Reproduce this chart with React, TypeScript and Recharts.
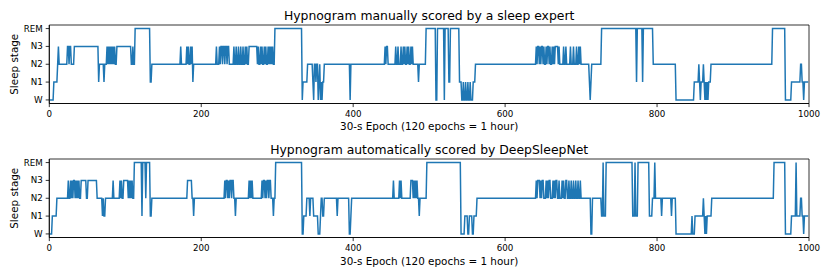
import React from 'react';
import { LineChart, Line, XAxis, YAxis, ReferenceArea } from 'recharts';

const STAGES = ['W', 'N1', 'N2', 'N3', 'REM'];
const X_TICKS = [0, 200, 400, 600, 800, 1000];
const Y_TICKS = [0, 1, 2, 3, 4];
const X_LABEL = '30-s Epoch (120 epochs = 1 hour)';
const TITLE_MANUAL = 'Hypnogram manually scored by a sleep expert';
const TITLE_AUTO = 'Hypnogram automatically scored by DeepSleepNet';

// [epoch, stage] change points: the stage holds until the next change
const manualChanges: [number, number][] = [
  [0, 0], [6, 1], [11, 2], [12, 3], [13, 2], [24, 3], [26, 2], [27, 3], [29, 2], [33, 3],
  [65, 1], [66, 2], [72, 1], [73, 2], [76, 3], [77, 2], [78, 3], [79, 2], [80, 3], [81, 2],
  [82, 3], [83, 2], [84, 3], [85, 2], [86, 3], [87, 2], [89, 3], [108, 2], [110, 3], [111, 2],
  [113, 4], [133, 1], [135, 2], [173, 3], [174, 2], [181, 3], [182, 2], [183, 3], [184, 2],
  [186, 3], [187, 2], [188, 3], [189, 1], [190, 2],
  [220, 3], [221, 2], [224, 3], [225, 2], [226, 3], [228, 2], [229, 3], [231, 2], [232, 3],
  [234, 2], [235, 3], [237, 2], [243, 3], [244, 2], [246, 3], [247, 2], [249, 3], [250, 2],
  [252, 3], [253, 2], [255, 3], [256, 2], [258, 3], [259, 2], [260, 3], [261, 2], [263, 3],
  [274, 2], [275, 3], [276, 2], [278, 3], [279, 2], [280, 3], [281, 2], [283, 3], [284, 2],
  [285, 3], [286, 2], [288, 3], [289, 2], [290, 3], [291, 2], [292, 3], [293, 2], [294, 3],
  [295, 2], [297, 4],
  [333, 0], [334, 1], [340, 2], [347, 1], [348, 0], [349, 2], [351, 1], [352, 2], [354, 0],
  [355, 1], [356, 2], [357, 0], [358, 1], [359, 0], [360, 1], [362, 2], [396, 0], [397, 2],
  [442, 3], [443, 2], [444, 3], [446, 2], [456, 3], [457, 2], [459, 3], [460, 2], [463, 3],
  [464, 2], [466, 3], [467, 2], [468, 3], [469, 2], [471, 3], [472, 2], [473, 3], [474, 2],
  [476, 3], [477, 2], [478, 3], [479, 2], [486, 1], [487, 2], [496, 4],
  [509, 0], [511, 4], [520, 0], [521, 4], [526, 1], [528, 4], [540, 1], [543, 0], [545, 1],
  [546, 0], [548, 1], [549, 0], [551, 1], [552, 0], [554, 1], [555, 0], [558, 1], [561, 2],
  [641, 3], [642, 2], [643, 3], [645, 2], [646, 3], [647, 2], [648, 3], [650, 2], [651, 3],
  [652, 2], [654, 3], [655, 2], [656, 3], [658, 2], [659, 3], [660, 2], [662, 3], [663, 2],
  [664, 3], [665, 2], [666, 3], [670, 2], [671, 3], [672, 2], [677, 3], [678, 2], [680, 3],
  [681, 2], [686, 3], [687, 2], [690, 3], [691, 2], [694, 3], [695, 2], [697, 3], [698, 2],
  [699, 3], [700, 2],
  [711, 1], [712, 0], [713, 1], [714, 2], [727, 4], [773, 1], [774, 4], [781, 1], [782, 4],
  [795, 2], [825, 0], [849, 1], [855, 2], [856, 1], [857, 0], [858, 1], [861, 2], [862, 1],
  [863, 0], [864, 1], [865, 0], [866, 1], [867, 0], [868, 1], [871, 2], [952, 4], [969, 0],
  [977, 1], [989, 2], [991, 1], [993, 0], [994, 1], [999, 1],
];

const autoChanges: [number, number][] = [
  [0, 0], [4, 1], [10, 2], [25, 3], [26, 2], [28, 3], [29, 2], [30, 3], [31, 2], [32, 3],
  [34, 2], [35, 3], [36, 2], [37, 3], [38, 2], [39, 3], [40, 2], [42, 3], [49, 2], [51, 3],
  [63, 2], [70, 1], [71, 2], [72, 1], [74, 2], [84, 3], [85, 2], [93, 3], [94, 2], [95, 3],
  [96, 2], [98, 3], [104, 2], [105, 3], [106, 2], [107, 3], [108, 2], [109, 3], [110, 2],
  [112, 4], [122, 1], [123, 4], [127, 2], [128, 4], [133, 1], [135, 2], [182, 3], [188, 2],
  [190, 1], [191, 2],
  [231, 3], [232, 2], [233, 3], [235, 2], [236, 3], [237, 2], [238, 3], [240, 2], [241, 3],
  [243, 2], [245, 1], [246, 2], [263, 3], [264, 2], [265, 3], [266, 2], [267, 3], [268, 2],
  [280, 3], [281, 2], [282, 3], [284, 2], [285, 3], [286, 2], [287, 3], [289, 2], [290, 3],
  [292, 2], [295, 1], [296, 2], [298, 4],
  [333, 0], [335, 1], [339, 2], [343, 1], [344, 2], [348, 1], [354, 0], [357, 1], [358, 2],
  [360, 1], [362, 2], [379, 1], [380, 2], [395, 0], [397, 1], [398, 2],
  [453, 3], [454, 2], [461, 3], [462, 2], [463, 3], [464, 2], [476, 3], [479, 2], [480, 3],
  [481, 2], [482, 3], [483, 2], [484, 3], [485, 2], [487, 1], [488, 2], [497, 4],
  [542, 0], [547, 1], [551, 0], [553, 1], [557, 0], [559, 1], [563, 2],
  [641, 3], [642, 2], [643, 3], [646, 2], [647, 3], [648, 2], [649, 3], [651, 2], [654, 3],
  [655, 2], [656, 3], [657, 2], [658, 3], [660, 2], [663, 3], [664, 2], [665, 3], [666, 2],
  [667, 3], [669, 2], [671, 3], [672, 2], [675, 3], [676, 2], [677, 3], [678, 2], [680, 3],
  [682, 2], [684, 3], [685, 2], [687, 3], [688, 2], [690, 3], [691, 2], [693, 3], [694, 2],
  [696, 3], [697, 2], [699, 3], [700, 2],
  [713, 0], [715, 2], [727, 1], [729, 4], [730, 1], [733, 4], [768, 1], [771, 4], [772, 1],
  [775, 4], [790, 1], [794, 2], [797, 4], [798, 2], [806, 1], [807, 2], [819, 1], [820, 2],
  [825, 0], [846, 1], [847, 0], [850, 1], [861, 2], [862, 1], [863, 0], [864, 1], [865, 0],
  [866, 1], [872, 2], [954, 4], [969, 0], [977, 1], [983, 4], [984, 1], [989, 2], [991, 1],
  [993, 0], [994, 1], [999, 1],
];

const FONT = '"DejaVu Sans", sans-serif';
const BLUE = '#1f77b4';
const SPINE = { stroke: '#000', strokeWidth: 0.8 };

// each run becomes its first and last epoch, joined by straight lines like an epoch-by-epoch plot
const toData = (changes: [number, number][]) => {
  const out: { epoch: number; stage: number }[] = [];
  changes.forEach(([epoch, stage], i) => {
    out.push({ epoch, stage });
    const next = changes[i + 1];
    if (next && next[0] - 1 > epoch) out.push({ epoch: next[0] - 1, stage });
  });
  return out;
};

const yLabel = (props: any) => {
  const vb = props.viewBox || {};
  const cx = (vb.x || 0) + 18;
  const cy = (vb.y || 0) + (vb.height || 0) / 2;
  return (
    <text
      x={cx}
      y={cy}
      transform={`rotate(-90, ${cx}, ${cy})`}
      textAnchor="middle"
      fontSize={10.4}
      fontFamily={FONT}
      fill="#000"
    >
      Sleep stage
    </text>
  );
};

type Props = {
  title: string;
  changes: [number, number][];
  height: number;
  xAxisHeight: number;
  labelOffset: number;
};

const Hypnogram: React.FC<Props> = ({ title, changes, height, xAxisHeight, labelOffset }) => {
  const data = toData(changes);
  return (
    <LineChart width={830} height={height} data={data} margin={{ top: 25, right: 21, bottom: 0, left: 0 }}>
      <XAxis
        dataKey="epoch"
        type="number"
        domain={[0, 1000]}
        ticks={X_TICKS}
        allowDataOverflow
        height={xAxisHeight}
        tickSize={3.6}
        tickMargin={4}
        tick={{ fill: '#000', fontSize: 8.7, fontFamily: FONT }}
        tickLine={{ stroke: '#000', strokeWidth: 0.8 }}
        axisLine={SPINE}
        label={{ value: X_LABEL, position: 'insideBottom', offset: labelOffset, fill: '#000', fontSize: 10.4, fontFamily: FONT }}
      />
      <YAxis
        type="number"
        domain={[-0.2, 4.2]}
        ticks={Y_TICKS}
        allowDataOverflow
        width={49.3}
        tickSize={3.6}
        tickMargin={3}
        tickFormatter={(v: number) => STAGES[v]}
        tick={{ fill: '#000', fontSize: 8.7, fontFamily: FONT }}
        tickLine={{ stroke: '#000', strokeWidth: 0.8 }}
        axisLine={SPINE}
        label={yLabel}
      />
      <ReferenceArea
        x1={0}
        x2={1000}
        y1={-0.2}
        y2={4.2}
        fill="none"
        stroke="#000"
        strokeWidth={0.8}
        ifOverflow="visible"
        label={{ value: title, position: 'top', offset: 5.5, fill: '#000', fontSize: 12.4, fontFamily: FONT }}
      />
      <Line
        type="linear"
        dataKey="stage"
        stroke={BLUE}
        strokeWidth={1.5}
        dot={false}
        isAnimationActive={false}
      />
    </LineChart>
  );
};

export default function App() {
  return (
    <div style={{ position: 'absolute', left: 0, top: 0, width: 830, height: 277, background: '#fff' }}>
      <Hypnogram title={TITLE_MANUAL} changes={manualChanges} height={134} xAxisHeight={30.5} labelOffset={4} />
      <Hypnogram title={TITLE_AUTO} changes={autoChanges} height={143} xAxisHeight={39.5} labelOffset={12.5} />
    </div>
  );
}
